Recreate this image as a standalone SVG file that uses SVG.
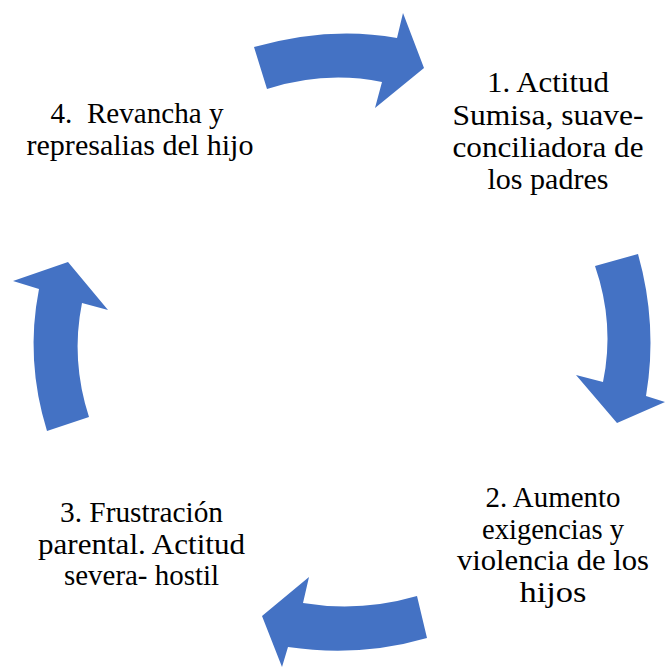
<svg xmlns="http://www.w3.org/2000/svg" width="665" height="668" viewBox="0 0 665 668">
<style>
.arr{fill:#4472C4;stroke:none}
.lbl{font-family:'Liberation Serif','Times New Roman',Tinos,'DejaVu Serif',serif;font-size:30px;fill:#000;text-anchor:middle;white-space:pre}
</style>
<rect width="665" height="668" fill="#fff"/>
<g id="connectors">
<path class="arr" d="M254,47 Q330,25.5 397,38 L403,13 L424,68 L375,108 L382,82 Q325,70.5 267,89 Z"/>
<path class="arr" d="M638,254 Q658,325 646,396 L665,402 L617,423 L576,375 L603,382 Q615,324 595,266 Z"/>
<path class="arr" d="M427,638 Q360,657.5 288,647 L282,667 L262,616 L309,577 L303,603 Q360,612.5 417,596 Z"/>
<path class="arr" d="M47,431 Q25,360 39,289 L13,281 L68,262 L108,310 L82,303 Q70.5,360 89,417 Z"/>
</g>
<g id="node1">
<text class="lbl" x="548" y="92" textLength="122" lengthAdjust="spacingAndGlyphs">1. Actitud</text>
<text class="lbl" x="548" y="124.5" textLength="191" lengthAdjust="spacingAndGlyphs">Sumisa, suave-</text>
<text class="lbl" x="548" y="157" textLength="191" lengthAdjust="spacingAndGlyphs">conciliadora de</text>
<text class="lbl" x="548" y="189" textLength="121" lengthAdjust="spacingAndGlyphs">los padres</text>
</g>
<g id="node2">
<text class="lbl" x="553" y="507" textLength="135" lengthAdjust="spacingAndGlyphs">2. Aumento</text>
<text class="lbl" x="553" y="538.5" textLength="142" lengthAdjust="spacingAndGlyphs">exigencias y</text>
<text class="lbl" x="553" y="570" textLength="192" lengthAdjust="spacingAndGlyphs">violencia de los</text>
<text class="lbl" x="553" y="602" textLength="67" lengthAdjust="spacingAndGlyphs">hijos</text>
</g>
<g id="node3">
<text class="lbl" x="141.5" y="522" textLength="163" lengthAdjust="spacingAndGlyphs">3. Frustración</text>
<text class="lbl" x="141.5" y="553.5" textLength="207" lengthAdjust="spacingAndGlyphs">parental. Actitud</text>
<text class="lbl" x="141.5" y="585" textLength="155" lengthAdjust="spacingAndGlyphs">severa- hostil</text>
</g>
<g id="node4">
<text class="lbl" x="137" y="123" textLength="173" lengthAdjust="spacingAndGlyphs">4.  Revancha y</text>
<text class="lbl" x="140" y="155" textLength="227" lengthAdjust="spacingAndGlyphs">represalias del hijo</text>
</g>
</svg>
